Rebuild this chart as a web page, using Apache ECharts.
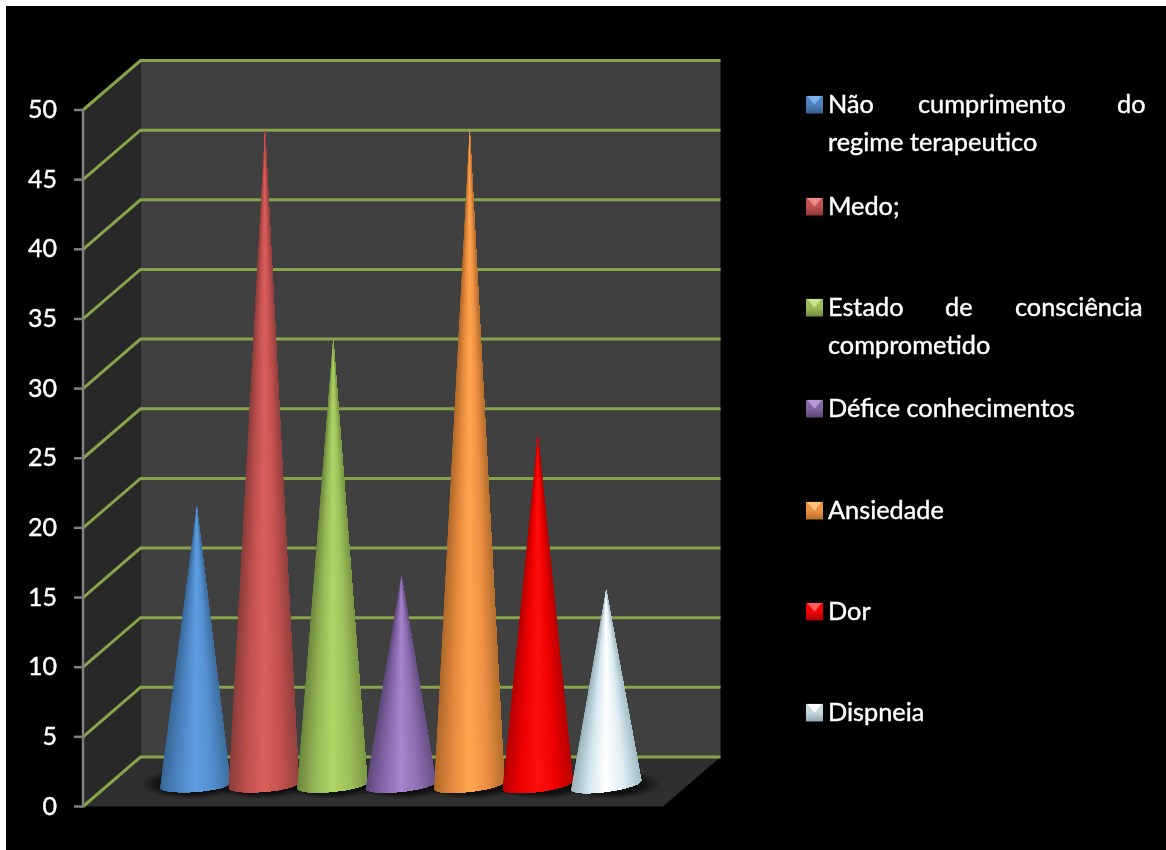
<!DOCTYPE html>
<html lang="pt">
<head>
<meta charset="utf-8">
<title>Cones</title>
<style>
  html, body { margin: 0; padding: 0; width: 1166px; height: 850px; background: #fff; overflow: hidden; }
  #plate { position: absolute; left: 6px; top: 6px; width: 1160px; height: 844px; background: #000; }
  #chart { position: absolute; left: 0; top: 0; width: 1166px; height: 850px; }
</style>
</head>
<body>
<div id="plate"></div>
<div id="chart"></div>
<script src="https://cdn.jsdelivr.net/npm/echarts@6/dist/echarts.min.js"></script>
<script>
// Series of the single cluster, in drawing order
const seriesNames = [
  'Não cumprimento do regime terapeutico',
  'Medo;',
  'Estado de consciência comprometido',
  'Défice conhecimentos',
  'Ansiedade',
  'Dor',
  'Dispneia'
];
const seriesValues = [20, 47, 32, 15, 47, 25, 14];
const valueTicks = [0, 5, 10, 15, 20, 25, 30, 35, 40, 45, 50];
const categories = ['Total'];

// Shading across each cone, left edge to right edge
const coneShades = [
  ['#3a6899', '#4e86c4', '#5d9fe2', '#5390d0', '#3f6f9f'],
  ['#8c3e3b', '#c0514e', '#da605c', '#c6524f', '#94423f'],
  ['#6d883e', '#96b856', '#afd666', '#9ec15c', '#7c9946'],
  ['#5f4a7b', '#8768ac', '#a686cd', '#8f70b2', '#695287'],
  ['#b0692b', '#e58a3e', '#ffa64e', '#ee9044', '#b6702f'],
  ['#b40000', '#ee0000', '#ff1010', '#f00000', '#b80000'],
  ['#9bb3bb', '#d5e7ee', '#ffffff', '#e0eef4', '#a7c0c8']
];
const swatchShades = [
  ['#7fb2ea', '#4f81bd', '#35608f'],
  ['#e88a87', '#c0504d', '#8f3a38'],
  ['#c9e58a', '#9bbb59', '#6f8a3d'],
  ['#b79ad8', '#8064a2', '#5a4675'],
  ['#ffc27e', '#e8913f', '#b56c2c'],
  ['#ff5a5a', '#f00000', '#a80000'],
  ['#ffffff', '#c4d8de', '#8ea6ae']
];

const SCENE = {
  depthX: 57.5, depthY: -49.5, // front plane to back wall
  midX: 28.5, midY: -21.5,     // front plane to the cones' base centres
  clusterGap: 1.5,             // free room in the band, in cone widths
  baseRadius: 35, baseBulge: 6.8, slices: 70,
  tickLength: 9
};
const colorLerp = echarts.color.lerp;

function coneGeometry(api, index, value) {
  const band = api.size([1, 0])[0];
  const step = band / (seriesValues.length + SCENE.clusterGap);
  const centre = api.coord([categories[0], 0]);
  const offset = (index - (seriesValues.length - 1) / 2) * step;
  const tip = api.coord([categories[0], value]);
  return {
    tipX: centre[0] + offset + SCENE.midX,
    tipY: tip[1] + SCENE.midY,
    baseX: centre[0] + offset + SCENE.midX + (index - 6) * 0.25,
    baseY: centre[1] + SCENE.midY,
    tilt: 5 + index * 0.7
  };
}

// A cone is a fan from the tip, painted left to right; each wedge runs to the
// far rim and is overpainted by the next, so no seams show between them
function renderCone(index) {
  return function (params, api) {
    const g = coneGeometry(api, index, api.value(1));
    const rim = [];
    for (let k = 0; k <= SCENE.slices; k++) {
      const a = Math.PI * (1 - k / SCENE.slices);
      rim.push([
        g.baseX + SCENE.baseRadius * Math.cos(a),
        g.baseY - (g.tilt / 2) * Math.cos(a) + SCENE.baseBulge * Math.sin(a)
      ]);
    }
    const children = [];
    for (let k = 0; k < SCENE.slices; k++) {
      const u = ((rim[k][0] + rim[k + 1][0]) / 2 - (g.baseX - SCENE.baseRadius)) / (2 * SCENE.baseRadius);
      children.push({
        type: 'polygon', silent: true,
        shape: { points: [[g.tipX, g.tipY]].concat(rim.slice(k)) },
        style: { fill: colorLerp(u, coneShades[index]) }
      });
    }
    return { type: 'group', children: children };
  };
}

// Soft pool of shade on the floor under a cone: a radial fade squashed into an ellipse
function renderShade(params, api) {
  const g = coneGeometry(api, params.dataIndex, api.value(1));
  return {
    type: 'circle', silent: true,
    x: g.baseX + (params.dataIndex - 3) * 1.5,
    y: g.baseY - 1,
    scaleY: 0.3,
    shape: { cx: 0, cy: 0, r: 50 },
    style: {
      fill: {
        type: 'radial', x: 0.5, y: 0.5, r: 0.5,
        colorStops: [
          { offset: 0, color: 'rgba(0,0,0,0.8)' },
          { offset: 0.65, color: 'rgba(0,0,0,0.65)' },
          { offset: 1, color: 'rgba(0,0,0,0)' }
        ]
      }
    }
  };
}

// Back wall, side wall and floor, spanned between the axis ends
function renderWalls(params, api) {
  const a = api.coord([categories[0], 0]);
  const top = api.coord([categories[0], valueTicks[valueTicks.length - 1]]);
  const band = api.size([1, 0])[0];
  const x0 = a[0] - band / 2, x1 = a[0] + band / 2, y0 = a[1], y1 = top[1];
  const dx = SCENE.depthX, dy = SCENE.depthY;
  return {
    type: 'group', silent: true,
    children: [
      { type: 'polygon', shape: { points: [[x0 + dx, y1 + dy], [x1 + dx, y1 + dy], [x1 + dx, y0 + dy], [x0 + dx, y0 + dy]] }, style: { fill: '#404040' } },
      { type: 'polygon', shape: { points: [[x0, y1], [x0 + dx, y1 + dy], [x0 + dx, y0 + dy], [x0, y0]] }, style: { fill: '#282828' } },
      { type: 'polygon', shape: { points: [[x0, y0], [x1, y0], [x1 + dx, y0 + dy], [x0 + dx, y0 + dy]] }, style: { fill: '#2f2f2f' } }
    ]
  };
}

// One gridline: up the side wall, then along the back wall
function renderGridline(params, api) {
  const p = api.coord([categories[0], api.value(0)]);
  const band = api.size([1, 0])[0];
  const x0 = p[0] - band / 2, x1 = p[0] + band / 2;
  return {
    type: 'polyline', silent: true,
    shape: { points: [[x0, p[1]], [x0 + SCENE.depthX, p[1] + SCENE.depthY], [x1 + SCENE.depthX, p[1] + SCENE.depthY]] },
    style: { fill: 'none', stroke: '#87a34b', lineWidth: 3 }
  };
}

// Spine and outward ticks of the value axis, drawn over the wall edge
function renderAxisMark(params, api) {
  const p = api.coord([categories[0], api.value(0)]);
  const top = api.coord([categories[0], valueTicks[valueTicks.length - 1]]);
  const x0 = p[0] - api.size([1, 0])[0] / 2;
  const stroke = { stroke: '#808080', lineWidth: 2.5, fill: 'none' };
  const children = [{
    type: 'line', silent: true,
    shape: { x1: x0 - SCENE.tickLength, y1: p[1], x2: x0, y2: p[1] },
    style: stroke
  }];
  if (params.dataIndex === 0) {
    children.push({
      type: 'line', silent: true,
      shape: { x1: x0, y1: p[1] + 1, x2: x0, y2: top[1] - 1 },
      style: stroke
    });
  }
  return { type: 'group', children: children };
}

function swatch(shades) {
  const c = document.createElement('canvas');
  c.width = 17; c.height = 18;
  const x = c.getContext('2d');
  x.fillStyle = shades[1]; x.fillRect(0, 0, 17, 18);
  const low = x.createLinearGradient(0, 9, 0, 18);
  low.addColorStop(0, shades[1]); low.addColorStop(1, shades[2]);
  x.fillStyle = low; x.fillRect(0, 9, 17, 9);
  x.fillStyle = shades[0];
  x.beginPath(); x.moveTo(1, 0); x.lineTo(16, 0); x.lineTo(8.5, 9); x.closePath(); x.fill();
  return c;
}

const legendFont = { color: '#fff', fontFamily: 'Lato', fontSize: 25.3, lineHeight: 38, textBorderColor: '#fff', textBorderWidth: 0.4 };
// Legend rows: justified lines are spans whose widths reach the next word
const legendRows = [
  { top: 104, text: '{sp|}\n{w90|Não}{w199|cumprimento}{w28|do}\n{t|regime terapeutico}' },
  { top: 206, text: '{t|Medo;}' },
  { top: 307, text: '{sp|}\n{w117|Estado}{w70|de}{w130|consciência}\n{t|comprometido}' },
  { top: 408, text: '{t|Défice conhecimentos}' },
  { top: 510, text: '{t|Ansiedade}' },
  { top: 611, text: '{t|Dor}' },
  { top: 712, text: '{t|Dispneia}' }
];
const legendRich = {
  t: legendFont,
  sp: Object.assign({}, legendFont, { width: 1 }),
  w90: Object.assign({}, legendFont, { width: 90 }),
  w199: Object.assign({}, legendFont, { width: 199 }),
  w28: Object.assign({}, legendFont, { width: 28 }),
  w117: Object.assign({}, legendFont, { width: 117 }),
  w70: Object.assign({}, legendFont, { width: 70 }),
  w130: Object.assign({}, legendFont, { width: 130 })
};

const legends = seriesNames.map(function (name, i) {
  const row = legendRows[i];
  const lines = row.text.split('\n').length;
  return {
    left: 806,
    top: row.top - (lines === 3 ? 50 : 12),
    padding: 0,
    orient: 'vertical',
    selectedMode: false,
    itemWidth: 17,
    itemHeight: 18,
    icon: 'rect',
    data: [{ name: name, itemStyle: { color: { image: swatch(swatchShades[i]), repeat: 'no-repeat' }, borderWidth: 0 } }],
    formatter: function () { return row.text; },
    textStyle: { color: '#fff', rich: legendRich }
  };
});

const tickRows = valueTicks.map(function (v) { return [v]; });
const chart = echarts.init(document.getElementById('chart'), null, { renderer: 'canvas' });
chart.setOption({
  backgroundColor: 'transparent',
  animation: false,
  legend: legends,
  grid: { left: 83, width: 580, top: 110, height: 696.5, containLabel: false },
  xAxis: { type: 'category', data: categories, show: false },
  yAxis: {
    type: 'value', position: 'left', min: 0, max: 50, interval: 5,
    axisLine: { show: false },
    axisTick: { show: false },
    axisLabel: { color: '#fff', fontFamily: 'Lato', fontSize: 25, margin: 26, textBorderColor: '#fff', textBorderWidth: 0.4 },
    splitLine: { show: false }
  },
  series: [
    { name: 'paredes', type: 'custom', z: 1, clip: false, data: [[0]], renderItem: renderWalls, encode: { y: 0 } },
    { name: 'grelha', type: 'custom', z: 2, clip: false, data: tickRows, renderItem: renderGridline, encode: { y: 0 } },
    { name: 'eixo', type: 'custom', z: 2.5, clip: false, data: tickRows, renderItem: renderAxisMark, encode: { y: 0 } },
    { name: 'sombra', type: 'custom', z: 3, clip: false, data: seriesValues.map(function (v, i) { return [i, v]; }), renderItem: renderShade, encode: { y: 1 } }
  ].concat(seriesNames.map(function (name, i) {
    return {
      name: name, type: 'custom', z: 4, clip: false,
      data: [[categories[0], seriesValues[i]]],
      encode: { x: 0, y: 1 },
      itemStyle: { color: swatchShades[i][1] },
      renderItem: renderCone(i)
    };
  }))
});
</script>
</body>
</html>
